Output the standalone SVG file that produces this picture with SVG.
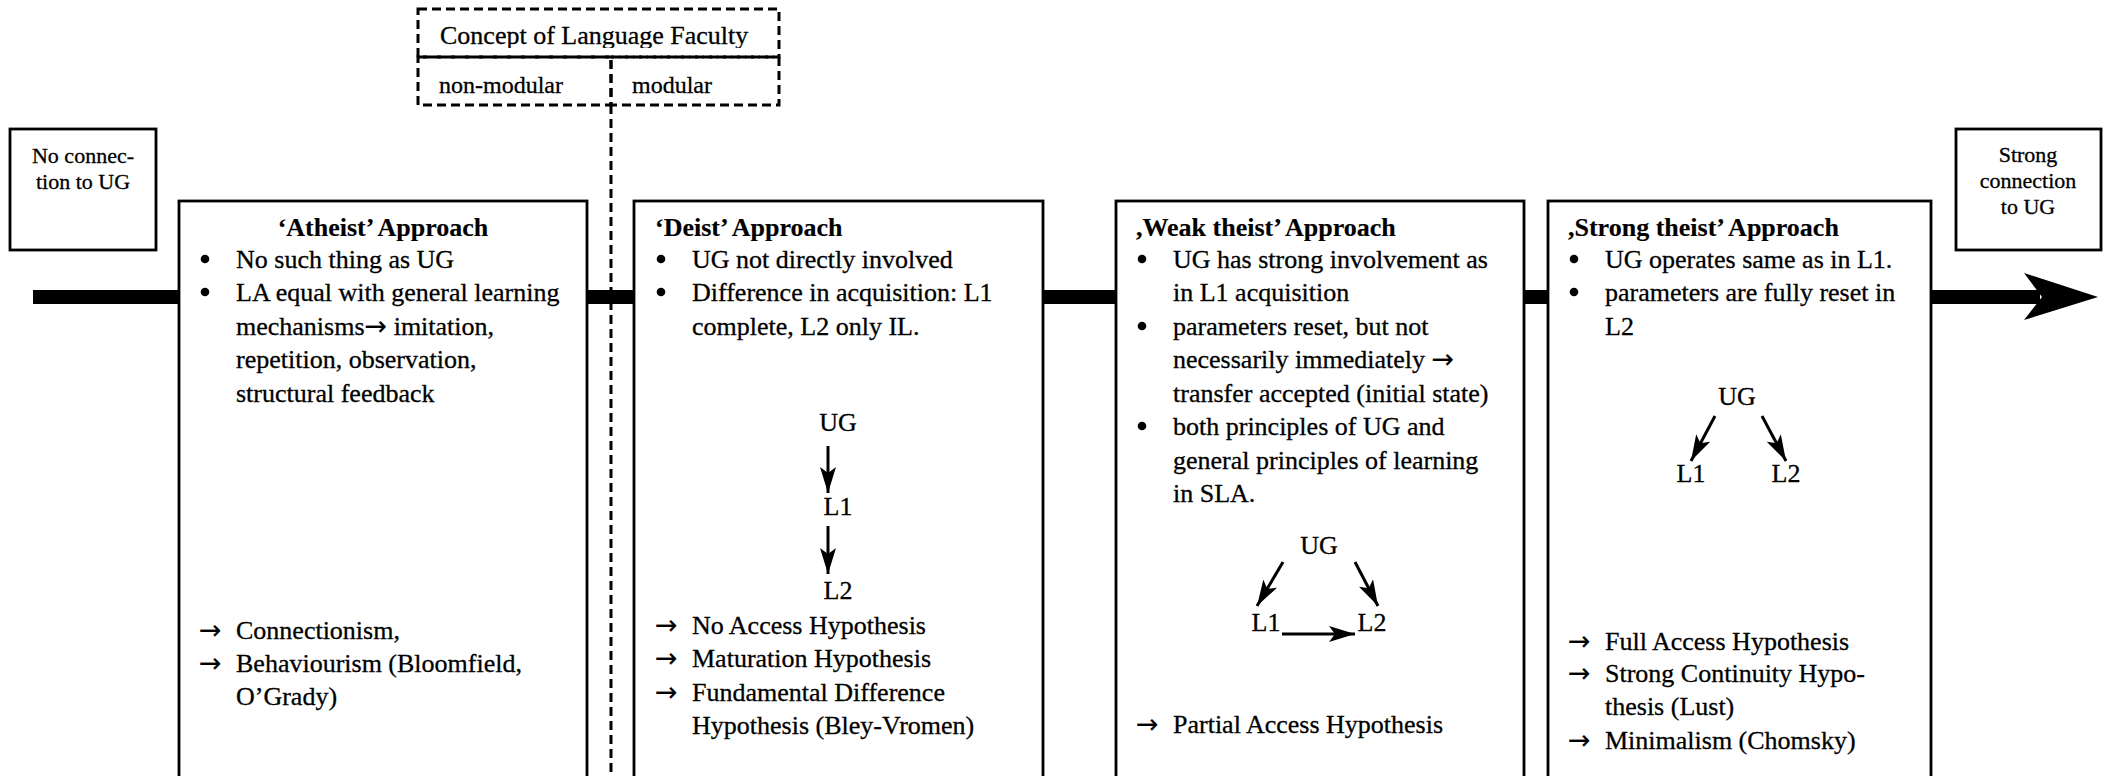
<svg xmlns="http://www.w3.org/2000/svg" width="2105" height="776" viewBox="0 0 2105 776" font-family="Liberation Serif, serif">
<style>
  text { font-family: "Liberation Serif", "Times New Roman", serif; fill: #000; stroke: #000; stroke-width: 0.3; }
  .t { font-size: 26px; }
  .b { font-size: 26px; font-weight: bold; stroke-width: 0.15; }
  .s { font-size: 22px; }
  .m { font-size: 26px; text-anchor: middle; }
  .ar { font-family: "DejaVu Sans", sans-serif; font-size: 27px; stroke-width: 0.15; }
  .box { fill: #fff; stroke: #000; stroke-width: 2.8; }
  .dash { fill: none; stroke: #000; stroke-width: 3; stroke-dasharray: 9 5; }
  .ln { stroke: #000; stroke-width: 3; fill: none; }
</style>
<defs>
  <marker id="ah" viewBox="0 0 26 16" refX="26" refY="8" markerWidth="26" markerHeight="16" markerUnits="userSpaceOnUse" orient="auto">
    <path d="M0,0 L26,8 L0,16 L6,8 Z" fill="#000"/>
  </marker>
  <clipPath id="clipTitle"><rect x="420" y="10" width="358" height="38"/></clipPath>
</defs>
<rect width="2105" height="776" fill="#fff"/>

<g id="connectors">
  <line x1="33" y1="297" x2="2040" y2="297" stroke="#000" stroke-width="14"/>
  <path d="M2098,297 L2024,273 L2042,297 L2024,320 Z" fill="#000"/>
  <line class="dash" x1="611" y1="105" x2="611" y2="776"/>
</g>

<g id="concept">
  <rect class="dash" x="418" y="9" width="361" height="48"/>
  <rect class="dash" x="418" y="57" width="193" height="48"/>
  <rect class="dash" x="611" y="57" width="168" height="48"/>
  <text class="t" x="440" y="44" clip-path="url(#clipTitle)">Concept of Language Faculty</text>
  <text class="t" x="439" y="93" style="font-size:24px">non-modular</text>
  <text class="t" x="632" y="93" style="font-size:24px">modular</text>
</g>

<g id="no-connection">
  <rect class="box" x="10" y="129" width="146" height="121"/>
  <text class="s" x="83" y="163" text-anchor="middle">No connec-</text>
  <text class="s" x="83" y="189" text-anchor="middle">tion to UG</text>
</g>

<g id="strong-connection">
  <rect class="box" x="1956" y="129" width="145" height="121"/>
  <text class="s" x="2028" y="162" text-anchor="middle">Strong</text>
  <text class="s" x="2028" y="188" text-anchor="middle">connection</text>
  <text class="s" x="2028" y="214" text-anchor="middle">to UG</text>
</g>

<g id="atheist">
  <rect class="box" x="179" y="201" width="408" height="620"/>
  <text class="b" x="383" y="236" text-anchor="middle">‘Atheist’ Approach</text>
  <circle cx="205" cy="259" r="4.3"/>
  <text class="t" x="236" y="268">No such thing as UG</text>
  <circle cx="205" cy="292" r="4.3"/>
  <text class="t" x="236" y="301">LA equal with general learning</text>
  <text class="t" x="236" y="335">mechanisms<tspan class="ar">→</tspan> imitation,</text>
  <text class="t" x="236" y="368">repetition, observation,</text>
  <text class="t" x="236" y="402">structural feedback</text>
  <text class="ar" x="199" y="639">→</text>
  <text class="t" x="236" y="639">Connectionism,</text>
  <text class="ar" x="199" y="672">→</text>
  <text class="t" x="236" y="672">Behaviourism (Bloomfield,</text>
  <text class="t" x="236" y="705">O’Grady)</text>
</g>

<g id="deist">
  <rect class="box" x="634" y="201" width="409" height="620"/>
  <text class="b" x="655" y="236">‘Deist’ Approach</text>
  <circle cx="661" cy="259" r="4.3"/>
  <text class="t" x="692" y="268">UG not directly involved</text>
  <circle cx="661" cy="292" r="4.3"/>
  <text class="t" x="692" y="301">Difference in acquisition: L1</text>
  <text class="t" x="692" y="335">complete, L2 only IL.</text>
  <text class="m" x="838" y="431">UG</text>
  <line class="ln" x1="828" y1="446" x2="828" y2="493" marker-end="url(#ah)"/>
  <text class="m" x="838" y="515">L1</text>
  <line class="ln" x1="828" y1="526" x2="828" y2="574" marker-end="url(#ah)"/>
  <text class="m" x="838" y="599">L2</text>
  <text class="ar" x="655" y="634">→</text>
  <text class="t" x="692" y="634">No Access Hypothesis</text>
  <text class="ar" x="655" y="667">→</text>
  <text class="t" x="692" y="667">Maturation Hypothesis</text>
  <text class="ar" x="655" y="701">→</text>
  <text class="t" x="692" y="701">Fundamental Difference</text>
  <text class="t" x="692" y="734">Hypothesis (Bley-Vromen)</text>
</g>

<g id="weak-theist">
  <rect class="box" x="1116" y="201" width="408" height="620"/>
  <text class="b" x="1136" y="236">,Weak theist’ Approach</text>
  <circle cx="1142" cy="259" r="4.3"/>
  <text class="t" x="1173" y="268">UG has strong involvement as</text>
  <text class="t" x="1173" y="301">in L1 acquisition</text>
  <circle cx="1142" cy="326" r="4.3"/>
  <text class="t" x="1173" y="335">parameters reset, but not</text>
  <text class="t" x="1173" y="368">necessarily immediately <tspan class="ar">→</tspan></text>
  <text class="t" x="1173" y="402">transfer accepted (initial state)</text>
  <circle cx="1142" cy="426" r="4.3"/>
  <text class="t" x="1173" y="435">both principles of UG and</text>
  <text class="t" x="1173" y="469">general principles of learning</text>
  <text class="t" x="1173" y="502">in SLA.</text>
  <text class="m" x="1319" y="554">UG</text>
  <line class="ln" x1="1283" y1="562" x2="1257" y2="606" marker-end="url(#ah)"/>
  <line class="ln" x1="1355" y1="562" x2="1378" y2="606" marker-end="url(#ah)"/>
  <text class="m" x="1266" y="631">L1</text>
  <text class="m" x="1372" y="631">L2</text>
  <line class="ln" x1="1282" y1="634" x2="1355" y2="634" marker-end="url(#ah)"/>
  <text class="ar" x="1136" y="733">→</text>
  <text class="t" x="1173" y="733">Partial Access Hypothesis</text>
</g>

<g id="strong-theist">
  <rect class="box" x="1548" y="201" width="383" height="620"/>
  <text class="b" x="1568" y="236">,Strong theist’ Approach</text>
  <circle cx="1574" cy="259" r="4.3"/>
  <text class="t" x="1605" y="268">UG operates same as in L1.</text>
  <circle cx="1574" cy="292" r="4.3"/>
  <text class="t" x="1605" y="301">parameters are fully reset in</text>
  <text class="t" x="1605" y="335">L2</text>
  <text class="m" x="1737" y="405">UG</text>
  <line class="ln" x1="1715" y1="416" x2="1691" y2="461" marker-end="url(#ah)"/>
  <line class="ln" x1="1762" y1="416" x2="1786" y2="461" marker-end="url(#ah)"/>
  <text class="m" x="1691" y="482">L1</text>
  <text class="m" x="1786" y="482">L2</text>
  <text class="ar" x="1568" y="650">→</text>
  <text class="t" x="1605" y="650">Full Access Hypothesis</text>
  <text class="ar" x="1568" y="682">→</text>
  <text class="t" x="1605" y="682">Strong Continuity Hypo-</text>
  <text class="t" x="1605" y="715">thesis (Lust)</text>
  <text class="ar" x="1568" y="749">→</text>
  <text class="t" x="1605" y="749">Minimalism (Chomsky)</text>
</g>
</svg>
